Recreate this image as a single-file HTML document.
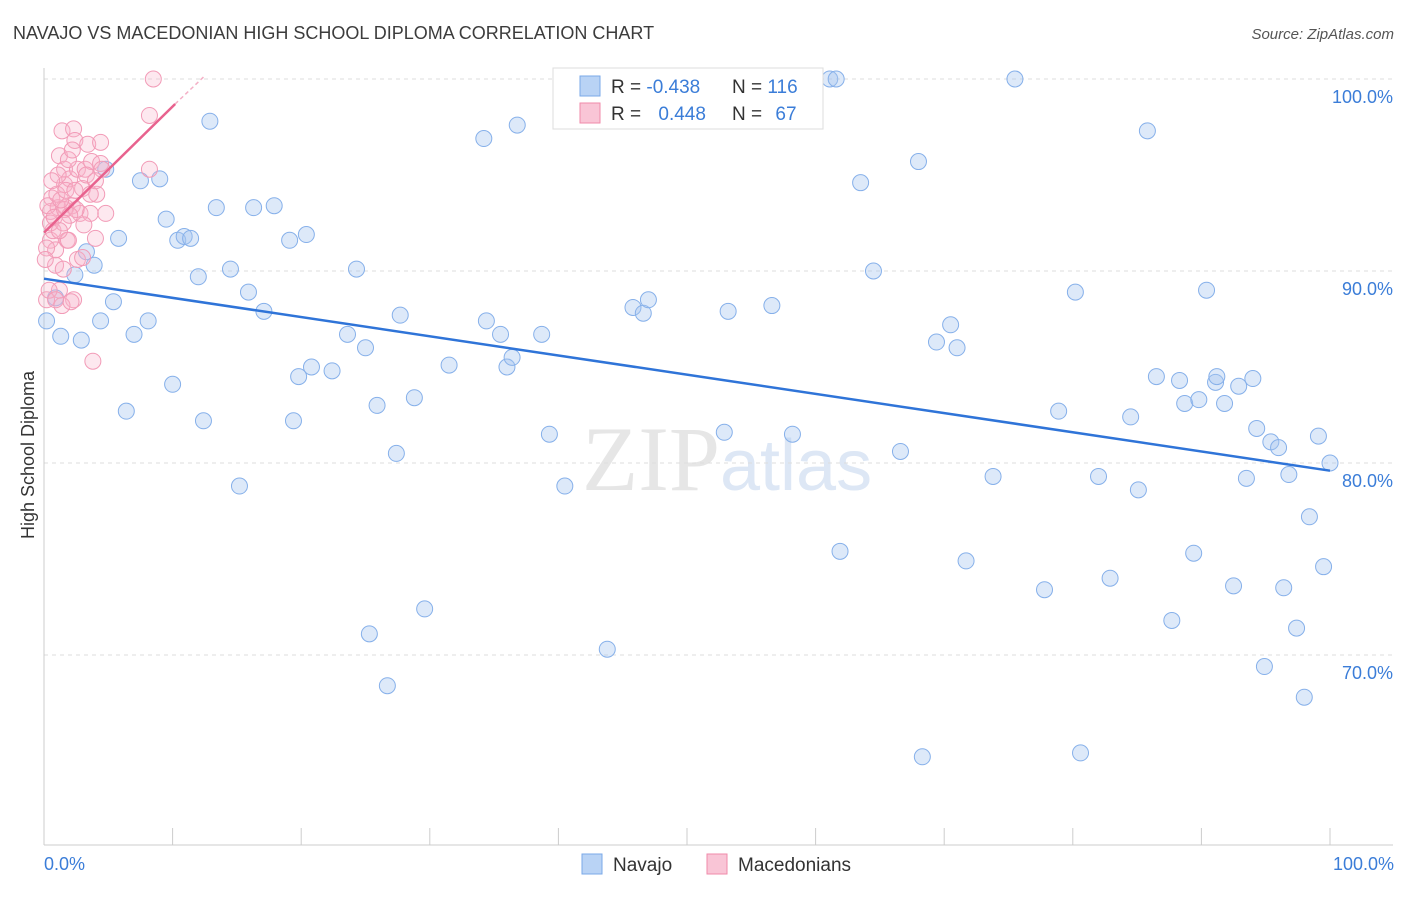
<!DOCTYPE html>
<html><head><meta charset="utf-8"><style>
body{margin:0;background:#fff;font-family:"Liberation Sans",sans-serif;}
</style></head><body>
<svg id="c" width="1406" height="892" xmlns="http://www.w3.org/2000/svg">
<text x="13" y="39" font-size="18" fill="#3c3c3c">NAVAJO VS MACEDONIAN HIGH SCHOOL DIPLOMA CORRELATION CHART</text>
<text x="1394" y="39" font-size="15" fill="#555" font-style="italic" text-anchor="end">Source: ZipAtlas.com</text>
<text x="0" y="0" font-size="18" fill="#333" transform="translate(34,455) rotate(-90)" text-anchor="middle">High School Diploma</text>
<text x="720" y="490" font-size="92" fill="#e6e6e6" text-anchor="end" font-family="Liberation Serif,serif">ZIP</text>
<text x="720" y="490" font-size="72" fill="#dde7f5">atlas</text>
<g id="grid"></g><g id="pts"></g><g id="lines"></g>
<g>
<rect x="553" y="68" width="270" height="61" fill="#fff" stroke="#ddd"/>
<rect x="580" y="76" width="20" height="20" fill="#b9d3f5" stroke="#7aa8e8"/>
<rect x="580" y="103" width="20" height="20" fill="#f9c5d6" stroke="#f08aaa"/>
<text x="611" y="93" font-size="19" fill="#333">R = <tspan fill="#3b7dd8">-0.438</tspan></text>
<text x="732" y="93" font-size="19" fill="#333">N = <tspan fill="#3b7dd8">116</tspan></text>
<text x="611" y="120" font-size="19" fill="#333">R = <tspan fill="#3b7dd8" dx="12">0.448</tspan></text>
<text x="732" y="120" font-size="19" fill="#333">N = <tspan fill="#3b7dd8" dx="8">67</tspan></text>
</g>
<g>
<rect x="582" y="854" width="20" height="20" fill="#b9d3f5" stroke="#7aa8e8"/>
<text x="613" y="871" font-size="19" fill="#333">Navajo</text>
<rect x="707" y="854" width="20" height="20" fill="#f9c5d6" stroke="#f08aaa"/>
<text x="738" y="871" font-size="19" fill="#333">Macedonians</text>
</g>
<text x="44" y="870" font-size="18" fill="#3b7dd8">0.0%</text>
<text x="1394" y="870" font-size="18" fill="#3b7dd8" text-anchor="end">100.0%</text>
</svg>
<script>
const yTicks=[100,90,80,70];
const yTickLabels=["100.0%","90.0%","80.0%","70.0%"];
const xTicks=[0,10,20,30,40,50,60,70,80,90,100];
const navajoX=[0.9,1.3,2.4,2.9,3.3,3.9,4.4,4.8,5.4,5.8,6.4,7.0,7.5,8.1,9.0,9.5,10.0,10.4,10.9,11.4,12.0,12.4,12.9,13.4,14.5,15.2,15.9,16.3,17.1,17.9,19.1,19.4,19.8,20.4,20.8,22.4,23.6,24.3,25.0,25.3,25.9,26.7,27.4,27.7,28.8,29.6,31.5,34.2,34.4,35.5,36.0,36.4,36.8,38.7,39.3,40.5,43.8,45.8,46.6,47.0,52.5,52.9,53.2,56.6,58.2,61.1,61.6,61.9,63.5,64.5,66.6,68.0,69.4,70.5,71.0,71.7,73.8,75.5,77.8,78.9,80.2,80.6,82.0,82.9,84.5,85.1,85.8,86.5,87.7,88.3,88.7,89.4,89.8,90.4,91.1,91.2,91.8,92.5,92.9,93.5,94.0,94.3,94.9,95.4,96.0,96.4,96.8,97.4,98.0,98.4,99.1,99.5,100,68.3,0.2];
const navajoY=[88.6,86.6,89.8,86.4,91.0,90.3,87.4,95.3,88.4,91.7,82.7,86.7,94.7,87.4,94.8,92.7,84.1,91.6,91.8,91.7,89.7,82.2,97.8,93.3,90.1,78.8,88.9,93.3,87.9,93.4,91.6,82.2,84.5,91.9,85.0,84.8,86.7,90.1,86.0,71.1,83.0,68.4,80.5,87.7,83.4,72.4,85.1,96.9,87.4,86.7,85.0,85.5,97.6,86.7,81.5,78.8,70.3,88.1,87.8,88.5,100,81.6,87.9,88.2,81.5,100,100,75.4,94.6,90.0,80.6,95.7,86.3,87.2,86.0,74.9,79.3,100,73.4,82.7,88.9,64.9,79.3,74.0,82.4,78.6,97.3,84.5,71.8,84.3,83.1,75.3,83.3,89.0,84.2,84.5,83.1,73.6,84.0,79.2,84.4,81.8,69.4,81.1,80.8,73.5,79.4,71.4,67.8,77.2,81.4,74.6,80.0,64.7,87.4];
const macedX=[0.2,0.5,0.5,0.6,0.7,0.9,0.9,1.1,1.2,1.4,1.5,1.6,1.6,1.7,1.8,2.0,2.2,2.3,2.3,2.4,2.6,2.6,2.8,3.0,3.2,3.4,3.6,3.7,3.8,4.0,4.1,4.4,4.4,4.5,4.8,8.2,8.2,8.5,0.3,0.5,0.8,1.0,1.2,1.4,1.6,1.9,2.1,2.5,3.0,3.6,1.9,1.1,0.2,0.4,0.6,1.3,1.7,2.0,2.2,3.1,3.3,1.5,0.9,0.1,1.2,2.4,4.0];
const macedY=[88.5,91.6,93.1,93.8,92.1,90.3,91.1,93.3,96.0,97.3,90.1,95.3,94.5,93.3,91.6,94.8,93.4,88.5,97.4,96.8,95.3,90.6,93.0,94.3,95.3,96.6,93.0,95.7,85.3,91.7,94.0,96.7,95.6,95.3,93.0,95.3,98.1,100,93.4,92.5,92.8,94.0,89.0,88.2,93.2,91.6,88.4,93.2,90.7,94.0,95.8,95.0,91.2,89.0,94.7,93.7,94.2,92.9,96.3,92.4,95.0,92.5,88.5,90.6,92.1,94.2,94.7];
const navajoTrend=[[0,89.6],[100,79.6]];
const macedTrend=[[0,92.0],[10.2,98.7]];
const macedTrendExt=[[10.2,98.7],[12.4,100.1]];
const X=v=>44+v*12.86, Y=v=>79+(100-v)*19.2;
const NS="http://www.w3.org/2000/svg";
function mk(tag,attrs,parent){const e=document.createElementNS(NS,tag);for(const k in attrs)e.setAttribute(k,attrs[k]);parent.appendChild(e);return e;}
const g=document.getElementById('grid');
yTicks.forEach((t,i)=>{
 const l=mk('line',{x1:44,x2:1393,y1:Y(t),y2:Y(t),stroke:'#ddd','stroke-dasharray':'4,4'},g);
 
 
 const tx=mk('text',{x:1393,y:Y(t)+24,'font-size':18,fill:'#3b7dd8','text-anchor':'end'},g);
 tx.textContent=yTickLabels[i];
 
 
});
const ax=mk('line',{x1:44,x2:1393,y1:845,y2:845,stroke:'#ccc'},g);


const ay=mk('line',{x1:44,x2:44,y1:68,y2:845,stroke:'#ccc'},g);


xTicks.forEach(t=>{
 const l=mk('line',{x1:X(t),x2:X(t),y1:828,y2:845,stroke:'#ccc'},g);
 
 
});
const p=document.getElementById('pts');
navajoX.forEach((x,i)=>{
 const c=mk('circle',{cx:X(x),cy:Y(navajoY[i]),r:8,fill:'rgba(165,198,240,0.38)',stroke:'#86b0ea','stroke-width':1},p);
 
 
});
macedX.forEach((x,i)=>{
 const c=mk('circle',{cx:X(x),cy:Y(macedY[i]),r:8,fill:'rgba(247,180,202,0.3)',stroke:'#f29bb7','stroke-width':1},p);
 
 
});
const L=document.getElementById('lines');
const l1=mk('line',{x1:X(navajoTrend[0][0]),y1:Y(navajoTrend[0][1]),x2:X(navajoTrend[1][0]),y2:Y(navajoTrend[1][1]),stroke:'#2f74d8','stroke-width':2.5},L);


const l2=mk('line',{x1:X(macedTrend[0][0]),y1:Y(macedTrend[0][1]),x2:X(macedTrend[1][0]),y2:Y(macedTrend[1][1]),stroke:'#e8628e','stroke-width':2.5},L);


const l3=mk('line',{x1:X(macedTrendExt[0][0]),y1:Y(macedTrendExt[0][1]),x2:X(macedTrendExt[1][0]),y2:Y(macedTrendExt[1][1]),stroke:'#f4b0c6','stroke-width':1.5,'stroke-dasharray':'4,3'},L);


</script>
</body></html>
